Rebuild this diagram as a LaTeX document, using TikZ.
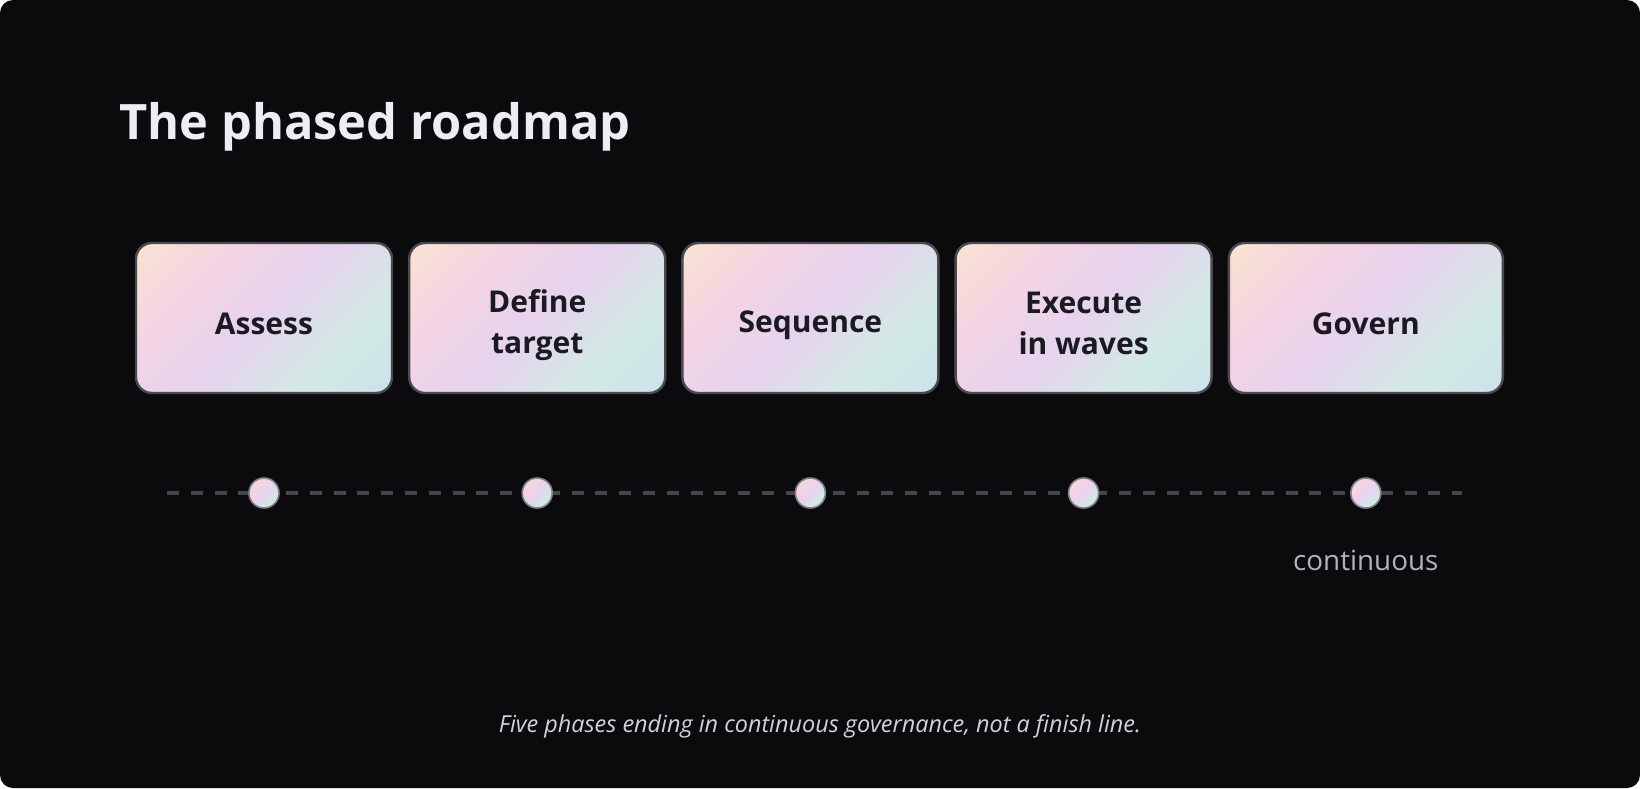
\documentclass[tikz,border=0pt]{standalone}
\usepackage{fontspec}
\setmainfont{Open Sans}
\usetikzlibrary{positioning}
\definecolor{pagebg}{HTML}{0B0B0D}
\definecolor{titlefg}{HTML}{EDEDF2}
\definecolor{labelfg}{HTML}{1B1A22}
\definecolor{notefg}{HTML}{B3B3BC}
\definecolor{footfg}{HTML}{D2D2D9}
\definecolor{edgegray}{HTML}{4A4A50}
\definecolor{dashgray}{HTML}{46464B}
\definecolor{gpeach}{HTML}{F8E3D1}
\definecolor{gpink}{HTML}{F4D4E3}
\definecolor{glilac}{HTML}{E7D3EE}
\definecolor{gmint}{HTML}{D0EAE3}
\definecolor{gice}{HTML}{CBE3EA}
\pgfdeclarehorizontalshading{phasefill}{100bp}{color(0bp)=(gpeach); color(15bp)=(gpeach); color(32bp)=(gpink); color(50bp)=(glilac); color(70bp)=(gmint); color(85bp)=(gice); color(100bp)=(gice)}
\newcommand{\ls}{\rule[-2.25pt]{0pt}{20.5pt}}

\begin{document}
\begin{tikzpicture}[x=0.5pt, y=-0.5pt,
  phase/.style={draw=edgegray, line width=1.2pt, rounded corners=8pt, shade, shading=phasefill, shading angle=-45,
    minimum width=128pt, minimum height=75pt, inner sep=0pt, align=center, text=labelfg,
    font=\bfseries\fontsize{15}{20.5}\selectfont},
  stop/.style={circle, draw=edgegray!70!white, line width=0.8pt, shade, shading=phasefill, shading angle=-45,
    minimum size=15pt, inner sep=0pt}]
\useasboundingbox (0,0) rectangle (1640,788);
\fill[white] (0,0) rectangle (1640,788);
\fill[pagebg, rounded corners=6.5pt] (0,0) rectangle (1640,788);

\node[anchor=base west, inner sep=0pt, text=titlefg, font=\bfseries\fontsize{24.4}{28}\selectfont] (title) at (119,139) {The phased roadmap};

\node[phase] (assess) at (264,318) {\ls Assess\ls};
\node[phase, right=7.4pt of assess] (define) {\ls Define\\target\ls};
\node[phase, right=7.4pt of define] (sequence) {\ls Sequence\ls};
\node[phase, right=7.4pt of sequence] (execute) {\ls Execute\\in waves\ls};
\node[phase, right=7.4pt of execute, minimum width=137pt] (govern) {\ls Govern\ls};

\coordinate (lstart) at (167,493);
\coordinate (lend) at (1462,493);
\draw[dashgray, line width=2pt, dash pattern=on 5.95pt off 5.95pt] (lstart) -- (lend);
\node[stop] (s1) at (assess |- lstart) {};
\node[stop] (s2) at (define |- lstart) {};
\node[stop] (s3) at (sequence |- lstart) {};
\node[stop] (s4) at (execute |- lstart) {};
\node[stop] (s5) at (govern |- lstart) {};

\node[anchor=base, inner sep=0pt, text=notefg, font=\fontsize{13.9}{16}\selectfont] (cont) at (s5 |- 0,570) {continuous};
\node[anchor=base, inner sep=0pt, text=footfg, font=\itshape\fontsize{11.7}{14}\selectfont] (foot) at (820,732) {Five phases ending in continuous governance, not a finish line.};
\end{tikzpicture}
\end{document}
